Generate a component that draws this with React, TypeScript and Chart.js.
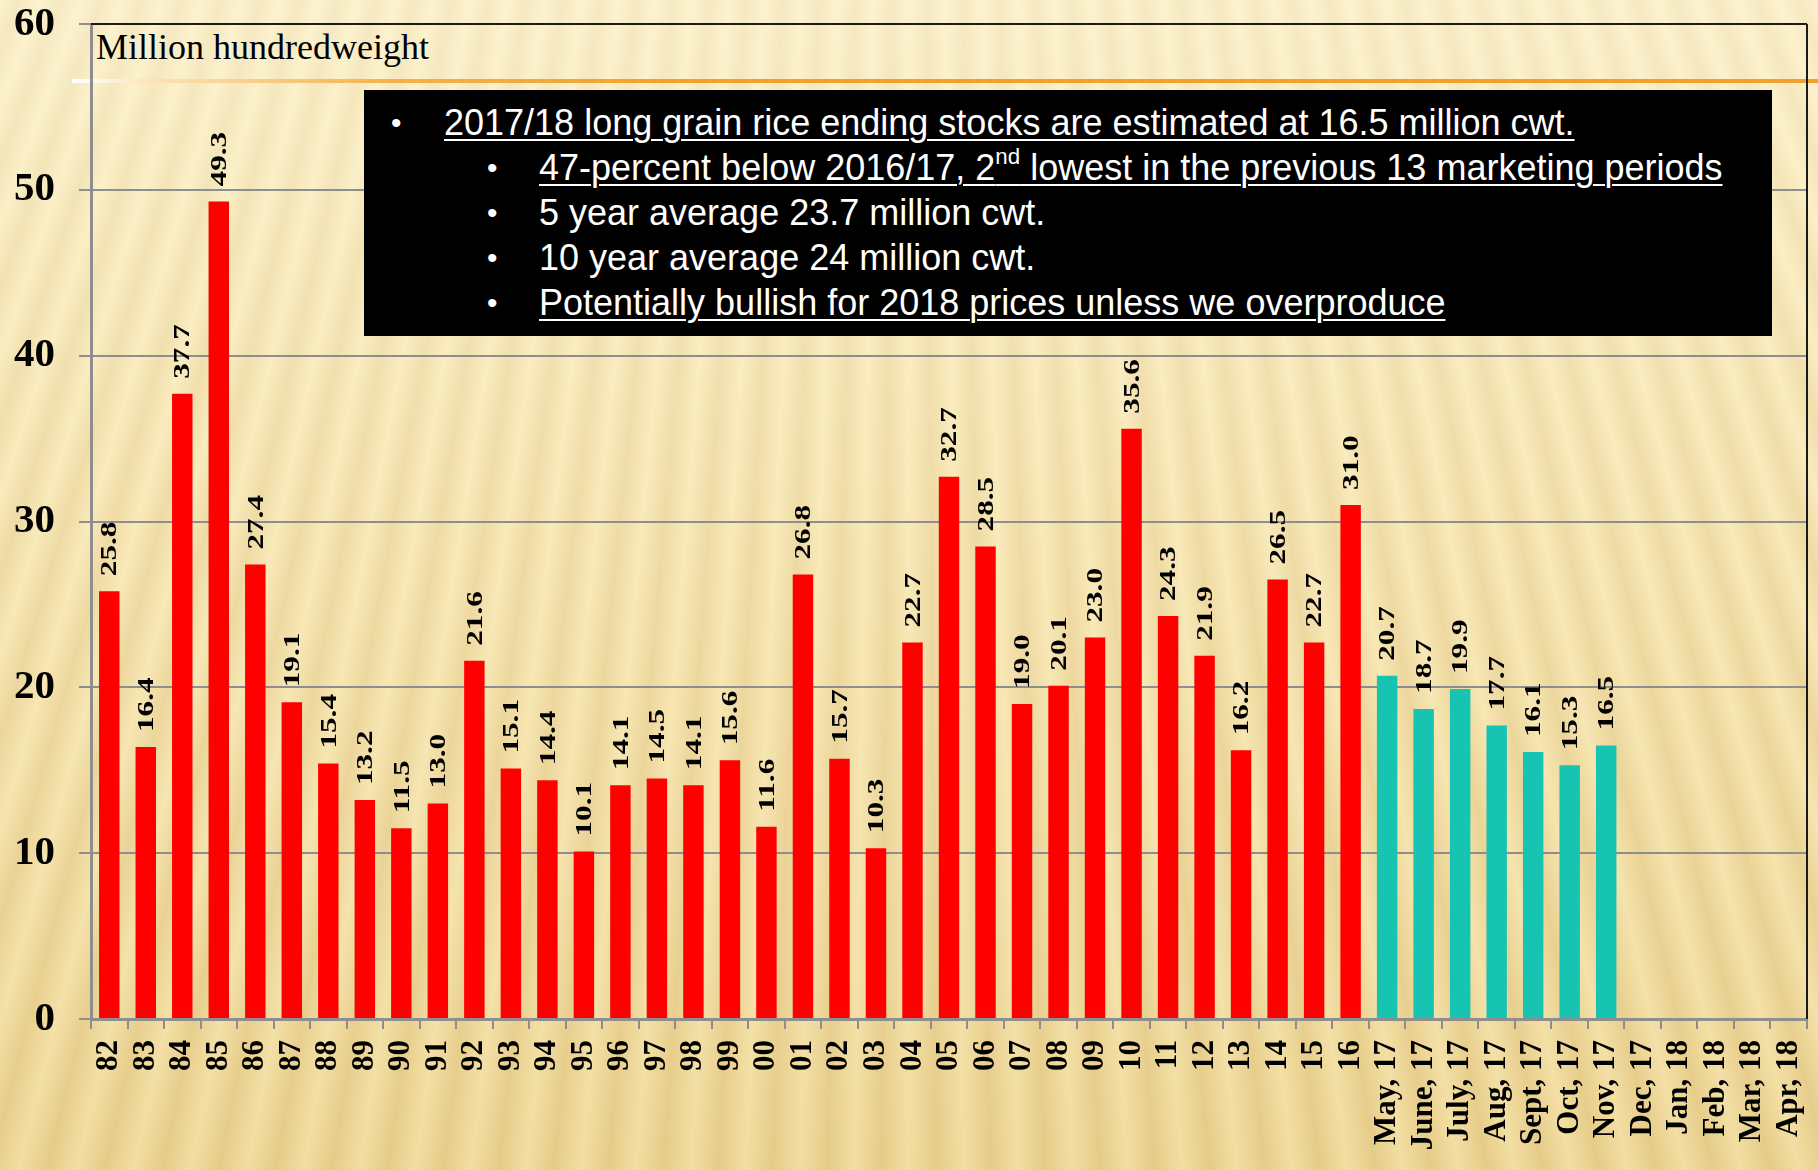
import React, { useEffect, useRef } from "react";
import { Chart, registerables } from "chart.js";

Chart.register(...registerables);

const yearLabels = [
  "82", "83", "84", "85", "86", "87", "88", "89", "90", "91", "92", "93", "94", "95", "96", "97", "98", "99",
  "00", "01", "02", "03", "04", "05", "06", "07", "08", "09", "10", "11", "12", "13", "14", "15", "16",
];
const yearValues = [
  25.8, 16.4, 37.7, 49.3, 27.4, 19.1, 15.4, 13.2, 11.5, 13.0, 21.6, 15.1, 14.4, 10.1, 14.1, 14.5, 14.1, 15.6,
  11.6, 26.8, 15.7, 10.3, 22.7, 32.7, 28.5, 19.0, 20.1, 23.0, 35.6, 24.3, 21.9, 16.2, 26.5, 22.7, 31.0,
];
const monthLabels = [
  "May, 17", "June, 17", "July, 17", "Aug, 17", "Sept, 17", "Oct, 17", "Nov, 17",
  "Dec, 17", "Jan, 18", "Feb, 18", "Mar, 18", "Apr, 18",
];
const monthValues = [20.7, 18.7, 19.9, 17.7, 16.1, 15.3, 16.5, null, null, null, null, null];

const yTicks = [0, 10, 20, 30, 40, 50, 60];

const unitLabel = "Million hundredweight";
const boxLines = [
  { level: 0, underline: true, text: "2017/18 long grain rice ending stocks are estimated at 16.5 million cwt." },
  { level: 1, underline: true, text: "47-percent below 2016/17, 2|nd| lowest in the previous 13 marketing periods" },
  { level: 1, underline: false, text: "5 year average 23.7 million cwt." },
  { level: 1, underline: false, text: "10 year average 24 million cwt." },
  { level: 1, underline: true, text: "Potentially bullish for 2018 prices unless we overproduce" },
];

const RED = "#ff0000";
const TEAL = "#17c4b1";
const GRID = "#8e8e8e";

const labelsPlugin = {
  id: "valueLabels",
  afterDatasetsDraw(chart: any) {
    const ctx = chart.ctx;
    const meta = chart.getDatasetMeta(0);
    const data = chart.data.datasets[0].data;
    ctx.save();
    ctx.fillStyle = "#000";
    ctx.font = "bold 24px 'Liberation Serif', 'Times New Roman', serif";
    ctx.textAlign = "left";
    ctx.textBaseline = "middle";
    meta.data.forEach((el: any, i: number) => {
      const v = data[i];
      if (v === null || v === undefined) return;
      ctx.save();
      ctx.translate(el.x + 1, el.y - 15);
      ctx.rotate(-Math.PI / 2);
      ctx.scale(1.3, 1);
      ctx.fillText(Number(v).toFixed(1), 0, 0);
      ctx.restore();
    });
    ctx.restore();
  },
};

const framePlugin = {
  id: "frame",
  afterDraw(chart: any) {
    const { ctx, chartArea } = chart;
    ctx.save();
    ctx.strokeStyle = "#1a1a1a";
    ctx.lineWidth = 2;
    ctx.beginPath();
    ctx.moveTo(chartArea.right, chartArea.top);
    ctx.lineTo(chartArea.right, chartArea.bottom);
    ctx.stroke();
    ctx.beginPath();
    ctx.moveTo(chartArea.left, chartArea.top);
    ctx.lineTo(chartArea.right, chartArea.top);
    ctx.stroke();
    ctx.restore();
  },
};

function ChartCanvas() {
  const ref = useRef<HTMLCanvasElement | null>(null);
  useEffect(() => {
    if (!ref.current) return;
    const labels = [...yearLabels, ...monthLabels];
    const values = [...yearValues, ...monthValues];
    const colors = labels.map((_, i) => (i < yearLabels.length ? RED : TEAL));
    const chart = new Chart(ref.current, {
      type: "bar",
      data: {
        labels,
        datasets: [
          {
            data: values as any,
            backgroundColor: colors,
            borderWidth: 0,
            barPercentage: 0.56,
            categoryPercentage: 1,
          },
        ],
      },
      options: {
        responsive: false,
        animation: false,
        layout: { padding: { top: 24, right: 11, left: 0, bottom: 0 } },
        plugins: { legend: { display: false }, tooltip: { enabled: false } },
        scales: {
          x: {
            offset: true,
            grid: {
              display: true,
              drawOnChartArea: false,
              drawTicks: true,
              tickLength: 10,
              color: GRID,
              lineWidth: 2,
              offset: true,
            },
            border: { display: true, color: GRID, width: 3 },
            ticks: {
              autoSkip: false,
              maxRotation: 90,
              minRotation: 90,
              padding: 11,
              color: "#000",
              font: { family: "'Liberation Serif', 'Times New Roman', serif", size: 31, weight: "bold" },
            },
            afterFit(scale: any) {
              scale.height = 151;
              scale.paddingLeft = 0;
              scale.paddingRight = 0;
            },
          },
          y: {
            min: 0,
            max: 60,
            afterBuildTicks(scale: any) {
              scale.ticks = yTicks.map((v) => ({ value: v }));
            },
            grid: {
              color: GRID,
              lineWidth: 2,
              tickLength: 12,
              tickColor: GRID,
              tickWidth: 2,
            },
            border: { display: true, color: GRID, width: 3 },
            ticks: {
              padding: 24,
              color: "#000",
              font: { family: "'Liberation Serif', 'Times New Roman', serif", size: 41, weight: "bold" },
            },
            afterFit(scale: any) {
              scale.width = 91;
              scale.paddingTop = 0;
              scale.paddingBottom = 0;
            },
          },
        },
      },
      plugins: [labelsPlugin, framePlugin],
    });
    return () => chart.destroy();
  }, []);
  return <canvas ref={ref} width={1818} height={1170} style={{ position: "absolute", left: 0, top: 0 }} />;
}

function renderLine(text: string) {
  const parts = text.split("|");
  return parts.map((p, i) =>
    i % 2 === 1 ? (
      <sup key={i} style={{ fontSize: "62%", lineHeight: 0, verticalAlign: "0.7em" }}>
        {p}
      </sup>
    ) : (
      <span key={i}>{p}</span>
    )
  );
}

export default function App() {
  return (
    <div
      style={{
        position: "absolute",
        left: 0,
        top: 0,
        width: 1818,
        height: 1170,
        overflow: "hidden",
        background:
          "linear-gradient(to bottom, rgba(255,251,228,0.6) 0%, rgba(255,250,225,0.25) 45%, rgba(200,160,60,0.1) 100%), repeating-conic-gradient(from 0deg at 50% -2300px, #f7e5ae 0deg, #e9d090 0.45deg, #f7e5ae 0.9deg)",
      }}
    >
      <div
        style={{
          position: "absolute",
          left: 72,
          top: 79,
          width: 1746,
          height: 4,
          background: "linear-gradient(to right, #ffffff 0px, #fbe3b8 80px, #f3b24a 320px, #f0a22e 600px, #f0a22e 100%)",
        }}
      />
      <div
        style={{
          position: "absolute",
          left: 96,
          top: 29,
          fontFamily: "'Liberation Serif', 'Times New Roman', serif",
          fontSize: 36,
          lineHeight: "36px",
          color: "#000",
          whiteSpace: "nowrap",
        }}
      >
        {unitLabel}
      </div>
      <ChartCanvas />
      <div
        style={{
          position: "absolute",
          left: 364,
          top: 90,
          width: 1408,
          height: 246,
          background: "#000",
          color: "#fff",
          fontFamily: "'Liberation Sans', Arial, sans-serif",
          fontSize: 36,
        }}
      >
        {boxLines.map((ln, i) => {
          const bulletLeft = ln.level === 0 ? 27 : 123;
          const textLeft = ln.level === 0 ? 80 : 175;
          const top = 10 + i * 45;
          return (
            <React.Fragment key={i}>
              <div style={{ position: "absolute", left: bulletLeft, top, lineHeight: "45px", fontSize: 30 }}>•</div>
              <div
                style={{
                  position: "absolute",
                  left: textLeft,
                  top,
                  lineHeight: "45px",
                  whiteSpace: "nowrap",
                  textDecoration: ln.underline ? "underline" : "none",
                  textDecorationThickness: 2,
                  textUnderlineOffset: 4,
                }}
              >
                {renderLine(ln.text)}
              </div>
            </React.Fragment>
          );
        })}
      </div>
    </div>
  );
}
